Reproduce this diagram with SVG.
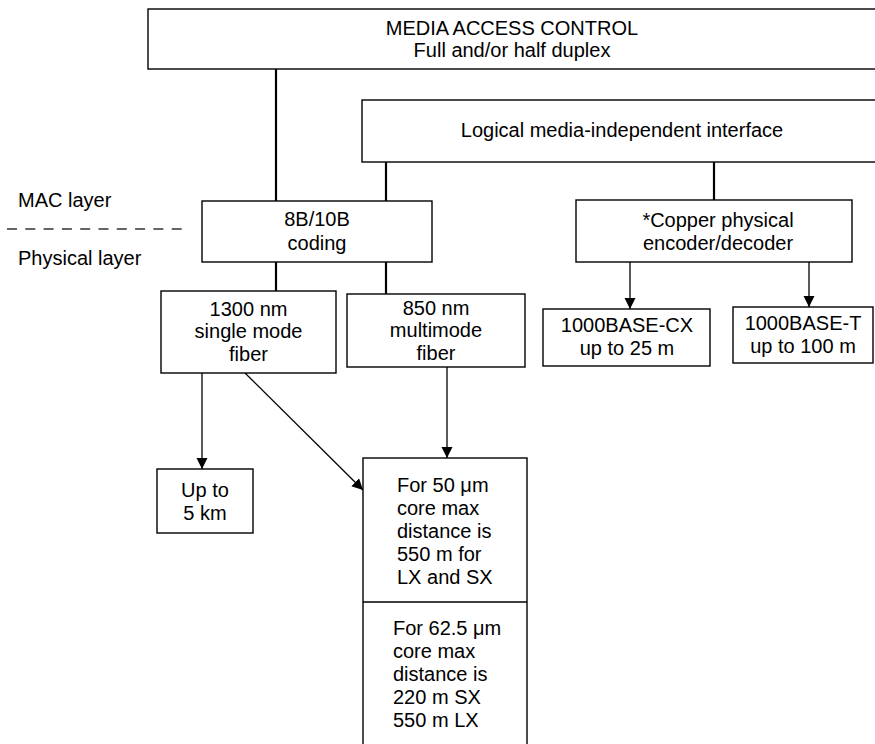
<svg xmlns="http://www.w3.org/2000/svg" width="875" height="744" viewBox="0 0 875 744">
<defs>
<marker id="arr" markerUnits="userSpaceOnUse" markerWidth="12" markerHeight="12" refX="11" refY="5.5" orient="auto">
<path d="M0,0 L11,5.5 L0,11 z" fill="#000"/>
</marker>
<style>
.box{fill:#fff;stroke:#000;stroke-width:1.4}
.t{font-family:"Liberation Sans",Arial,Helvetica,sans-serif;font-size:20px;fill:#000}
.c{text-anchor:middle}
.ln{stroke:#000;stroke-width:2.2;fill:none}
.ar{stroke:#000;stroke-width:1.3;fill:none;marker-end:url(#arr)}
</style>
</defs>
<rect width="875" height="744" fill="#fff"/>
<g id="connectors">
<line class="ln" x1="276" y1="69" x2="276" y2="201"/>
<line class="ln" x1="386" y1="162" x2="386" y2="201"/>
<line class="ln" x1="714" y1="162" x2="714" y2="200"/>
<line class="ln" x1="276" y1="262" x2="276" y2="291"/>
<line class="ln" x1="386" y1="262" x2="386" y2="294"/>
<line class="ar" x1="630" y1="262" x2="630" y2="309"/>
<line class="ar" x1="809" y1="262" x2="809" y2="307"/>
<line class="ar" x1="202" y1="373" x2="202" y2="469"/>
<line class="ar" x1="245" y1="373" x2="363" y2="490"/>
<line class="ar" x1="447" y1="367" x2="447" y2="458"/>
</g>
<g id="layers">
<line x1="7" y1="229" x2="182" y2="229" stroke="#333" stroke-width="1.4" stroke-dasharray="10 8.3"/>
<text class="t" x="18" y="207">MAC layer</text>
<text class="t" x="18" y="265">Physical layer</text>
</g>
<g id="mac">
<rect class="box" x="148" y="9" width="740" height="60"/>
<text class="t c" x="512" y="35">MEDIA ACCESS CONTROL</text>
<text class="t c" x="512" y="57">Full and/or half duplex</text>
</g>
<g id="lmii">
<rect class="box" x="362" y="100" width="520" height="62"/>
<text class="t c" x="622" y="137">Logical media-independent interface</text>
</g>
<g id="coding">
<rect class="box" x="202" y="201" width="230" height="61"/>
<text class="t c" x="317" y="226">8B/10B</text>
<text class="t c" x="317" y="250">coding</text>
</g>
<g id="copper">
<rect class="box" x="576" y="200" width="276" height="62"/>
<text class="t c" x="718" y="227">*Copper physical</text>
<text class="t c" x="718" y="250">encoder/decoder</text>
</g>
<g id="sm1300">
<rect class="box" x="161" y="291" width="175" height="82"/>
<text class="t c" x="248.5" y="316">1300 nm</text>
<text class="t c" x="248.5" y="338">single mode</text>
<text class="t c" x="248.5" y="361">fiber</text>
</g>
<g id="mm850">
<rect class="box" x="347" y="294" width="178" height="73"/>
<text class="t c" x="436" y="315">850 nm</text>
<text class="t c" x="436" y="337">multimode</text>
<text class="t c" x="436" y="360">fiber</text>
</g>
<g id="cx">
<rect class="box" x="543" y="309" width="167" height="57"/>
<text class="t c" x="627" y="332">1000BASE-CX</text>
<text class="t c" x="627" y="355">up to 25 m</text>
</g>
<g id="t">
<rect class="box" x="733" y="307" width="140" height="56"/>
<text class="t c" x="803" y="330">1000BASE-T</text>
<text class="t c" x="803" y="353">up to 100 m</text>
</g>
<g id="km5">
<rect class="box" x="157" y="469" width="96" height="64"/>
<text class="t c" x="205" y="497">Up to</text>
<text class="t c" x="205" y="520">5 km</text>
</g>
<g id="distances">
<rect class="box" x="363" y="458" width="164" height="300"/>
<line x1="363" y1="602" x2="527" y2="602" stroke="#000" stroke-width="1.4"/>
<text class="t" x="397" y="492">For 50 μm</text>
<text class="t" x="397" y="515">core max</text>
<text class="t" x="397" y="538">distance is</text>
<text class="t" x="397" y="561">550 m for</text>
<text class="t" x="397" y="584">LX and SX</text>
<text class="t" x="393" y="635">For 62.5 μm</text>
<text class="t" x="393" y="658">core max</text>
<text class="t" x="393" y="681">distance is</text>
<text class="t" x="393" y="704">220 m SX</text>
<text class="t" x="393" y="727">550 m LX</text>
</g>
</svg>
